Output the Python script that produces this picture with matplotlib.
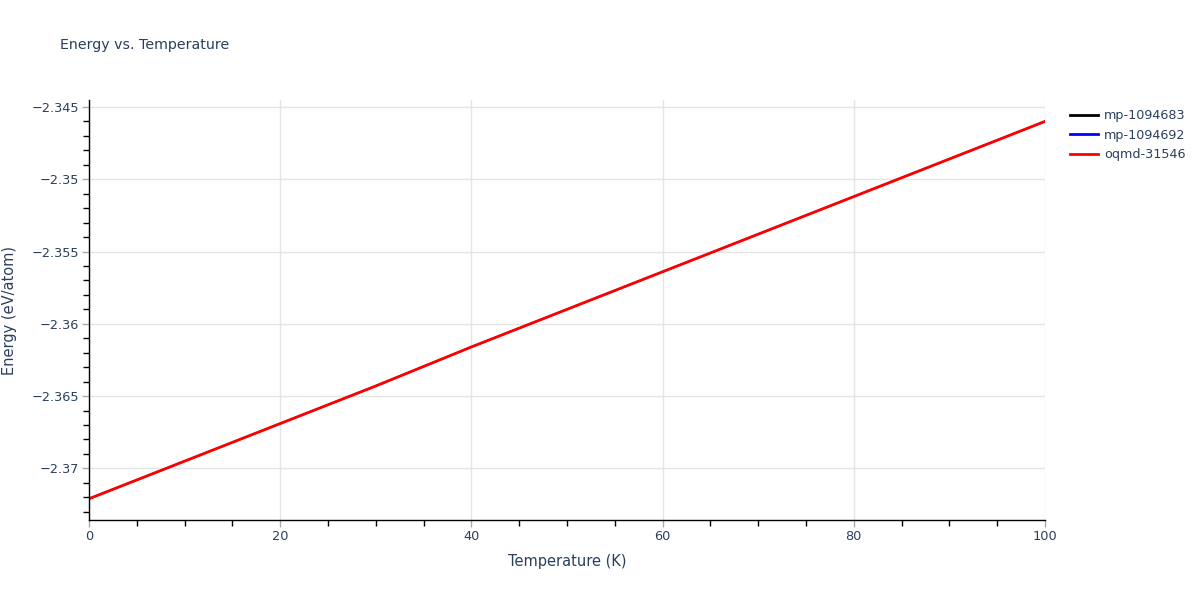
import numpy as np
import matplotlib.pyplot as plt
from matplotlib.ticker import MultipleLocator, FuncFormatter

temperature = [0, 10, 20, 30, 40, 50, 60, 70, 80, 90, 100]
energy_mp_1094683 = [-2.3721, -2.3695, -2.3669, -2.3643, -2.3616, -2.3590, -2.3564, -2.3538, -2.3512, -2.3486, -2.3460]
energy_mp_1094692 = [-2.3721, -2.3695, -2.3669, -2.3643, -2.3616, -2.3590, -2.3564, -2.3538, -2.3512, -2.3486, -2.3460]
energy_oqmd_31546 = [-2.3721, -2.3695, -2.3669, -2.3643, -2.3616, -2.3590, -2.3564, -2.3538, -2.3512, -2.3486, -2.3460]

series = [("mp-1094683", energy_mp_1094683, "black", 1.2),
          ("mp-1094692", energy_mp_1094692, "blue", 1.2),
          ("oqmd-31546", energy_oqmd_31546, "red", 2)]

txt = "#2a3f5f"
plt.rcParams['font.family'] = ['DejaVu Sans']

fig = plt.figure(figsize=(12, 6), dpi=100)
ax = fig.add_axes([89/1200, 80/600, (1045-89)/1200, 420/600])

for name, vals, col, lw in series:
    ax.plot(temperature, vals, color=col, linewidth=lw, label=name)

ax.set_xlim(0, 100)
ax.set_ylim(-2.37357, -2.34452)

ax.xaxis.set_major_locator(MultipleLocator(20))
ax.xaxis.set_minor_locator(MultipleLocator(5))
ax.yaxis.set_major_locator(MultipleLocator(0.005))
ax.yaxis.set_minor_locator(MultipleLocator(0.001))
ax.yaxis.set_major_formatter(FuncFormatter(lambda v, p: ("%g" % round(v, 4)).replace("-", "\u2212")))
ax.xaxis.set_major_formatter(FuncFormatter(lambda v, p: "%g" % v))

ax.grid(which='major', color='#e5e5e5', linewidth=1)
ax.set_axisbelow(True)
for s in ['top', 'right']:
    ax.spines[s].set_visible(False)
for s in ['left', 'bottom']:
    ax.spines[s].set_color('black')
    ax.spines[s].set_linewidth(1)

ax.tick_params(which='major', length=5, width=1, color='#aaaaaa', labelcolor=txt, labelsize=9.3, pad=2)
ax.tick_params(which='minor', length=4, width=1, color='black')

ax.set_xlabel("Temperature (K)", color=txt, fontsize=10.5, labelpad=8)
fig.text(10/1200, 1 - 310/600, "Energy (eV/atom)", color=txt, fontsize=10.5,
         rotation=90, va='center', ha='center')
fig.text(60/1200, 1 - 45/600, "Energy vs. Temperature", color=txt, fontsize=10.2, va='center', ha='left')

leg = ax.legend(loc='upper left', bbox_to_anchor=(1.021, 0.99), frameon=False,
                fontsize=9.2, handlelength=2.2, labelspacing=0.5, handletextpad=0.45, borderaxespad=0)
for t in leg.get_texts():
    t.set_color(txt)
for h in leg.get_lines():
    h.set_linewidth(2)

fig.savefig("out.png", dpi=100)
